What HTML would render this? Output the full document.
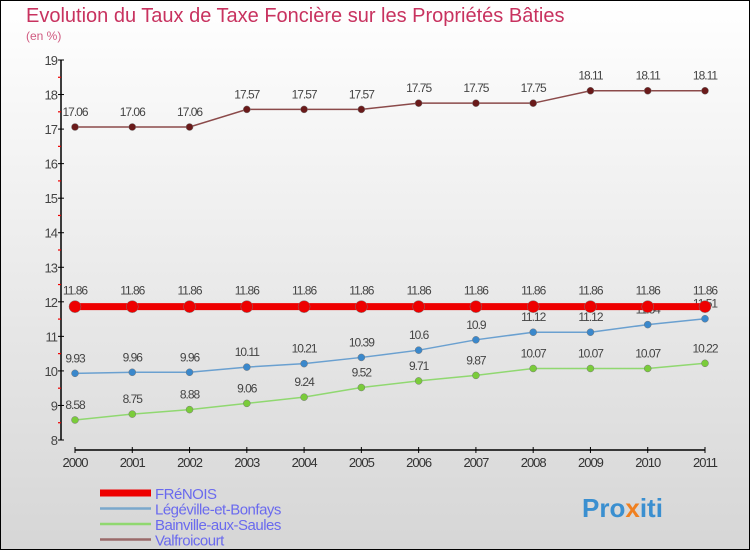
<!DOCTYPE html>
<html><head><meta charset="utf-8"><style>
body{margin:0}
svg{display:block;font-family:"Liberation Sans",sans-serif}
</style></head><body>
<svg width="750" height="550" viewBox="0 0 750 550">
<defs><linearGradient id="bg" x1="0" y1="0" x2="0" y2="1"><stop offset="0" stop-color="#ffffff"/><stop offset="1" stop-color="#d6d6d6"/></linearGradient></defs>
<rect x="0.5" y="0.5" width="749" height="549" fill="url(#bg)" stroke="#000"/>
<text x="26" y="22" font-size="20" fill="#c8325f">Evolution du Taux de Taxe Foncière sur les Propriétés Bâties</text>
<text x="26" y="40" font-size="12" fill="#d05a80">(en %)</text>
<g id="axes"></g>
<g id="series"></g>
<g id="legend"></g>
<text x="582" y="517" font-size="26" font-weight="bold" fill="#3a8fd0">Pro<tspan fill="#f08020">x</tspan>iti</text>
</svg>
<script>
const years=[2000,2001,2002,2003,2004,2005,2006,2007,2008,2009,2010,2011];
const yTicks=[8,9,10,11,12,13,14,15,16,17,18,19];
const frenois=[11.86,11.86,11.86,11.86,11.86,11.86,11.86,11.86,11.86,11.86,11.86,11.86];
const legeville=[9.93,9.96,9.96,10.11,10.21,10.39,10.6,10.9,11.12,11.12,11.34,11.51];
const bainville=[8.58,8.75,8.88,9.06,9.24,9.52,9.71,9.87,10.07,10.07,10.07,10.22];
const valfroicourt=[17.06,17.06,17.06,17.57,17.57,17.57,17.75,17.75,17.75,18.11,18.11,18.11];
const NS="http://www.w3.org/2000/svg";
const X=i=>75+i*(630/(years.length-1));
const Y=v=>440-(v-8)*(380/11);
function mk(p,t,a){const e=document.createElementNS(NS,t);for(const k in a)e.setAttribute(k,a[k]);p.appendChild(e);return e;}
const ax=document.getElementById('axes');
let e=mk(ax,'line',{x1:61,y1:Y(19),x2:61,y2:Y(8),stroke:'#000','stroke-width':1.5});


e=mk(ax,'line',{x1:75,y1:450,x2:705,y2:450,stroke:'#000','stroke-width':1.5});


yTicks.forEach((t,i)=>{
 mk(ax,'line',{x1:58,y1:Y(t),x2:64,y2:Y(t),stroke:'#000'});
 if(i<yTicks.length-1)mk(ax,'line',{x1:58,y1:Y(t+0.5),x2:61,y2:Y(t+0.5),stroke:'#e00','stroke-width':1.2});
 const tx=mk(ax,'text',{x:57,y:Y(t)+5,'text-anchor':'end','font-size':13,fill:'#444','letter-spacing':'-1'});
 tx.textContent=t;
 
 
});
years.forEach((yr,i)=>{
 mk(ax,'line',{x1:X(i),y1:447,x2:X(i),y2:453,stroke:'#000'});
 const tx=mk(ax,'text',{x:X(i),y:467,'text-anchor':'middle','font-size':13,fill:'#333','letter-spacing':'-1'});
 tx.textContent=yr;
 
 
});
const sg=document.getElementById('series');
function series(name,data,color,dot,w,r,dy){
 const g=mk(sg,'g',{});
 
 
 mk(g,'polyline',{points:data.map((v,i)=>X(i)+','+Y(v)).join(' '),fill:'none',stroke:color,'stroke-width':w});
 data.forEach((v,i)=>{
  const c=mk(g,'circle',{cx:X(i),cy:Y(v),r:r,fill:dot,stroke:'#777','stroke-width':0.5});
  
  
  const t=mk(g,'text',{x:X(i),y:Y(v)-dy,'text-anchor':'middle','font-size':12,fill:'#444','letter-spacing':'-1'});
  t.textContent=v;
  
  
 });
}
series('series-valfroicourt',valfroicourt,'#8b4a4a','#6a1a1a',1.5,3.5,11);
series('series-bainville',bainville,'#90d870','#7acc3a',1.5,3.5,11);
series('series-legeville',legeville,'#6aa0d0','#3a88cc',1.5,3.5,11);
series('series-frenois',frenois,'#ee0000','#ee0000',7,6,12);
const lg=document.getElementById('legend');
[['FRéNOIS','#ee0000',7],['Légéville-et-Bonfays','#7aa8cc',2.5],['Bainville-aux-Saules','#90d870',2.5],['Valfroicourt','#9a6a6a',2.5]].forEach((d,i)=>{
 const y=493+i*15.5;
 mk(lg,'line',{x1:100,y1:y,x2:151,y2:y,stroke:d[1],'stroke-width':d[2]});
 const t=mk(lg,'text',{x:155,y:y+6,'font-size':15,fill:'#6a6aee','letter-spacing':'-0.5'});
 t.textContent=d[0];
 
 
});
</script>
</body></html>
